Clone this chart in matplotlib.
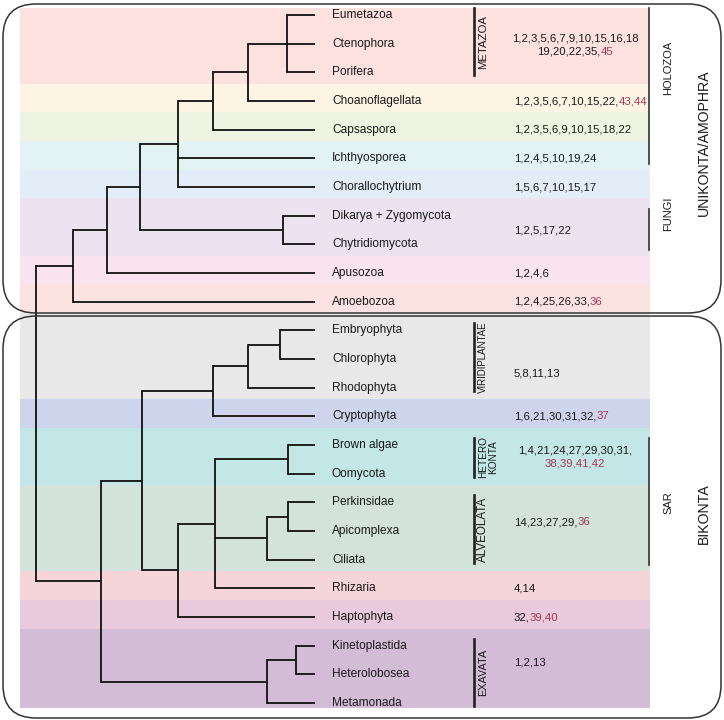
import matplotlib
matplotlib.use("Agg")
import matplotlib.pyplot as plt
from matplotlib.patches import FancyBboxPatch

plt.rcParams['font.family'] = ['Liberation Sans', 'DejaVu Sans']

# leaves, top to bottom (one row each)
leaves = ["Eumetazoa", "Ctenophora", "Porifera", "Choanoflagellata", "Capsaspora",
          "Ichthyosporea", "Chorallochytrium", "Dikarya + Zygomycota", "Chytridiomycota",
          "Apusozoa", "Amoebozoa", "Embryophyta", "Chlorophyta", "Rhodophyta",
          "Cryptophyta", "Brown algae", "Oomycota", "Perkinsidae", "Apicomplexa",
          "Ciliata", "Rhizaria", "Haptophyta", "Kinetoplastida", "Heterolobosea",
          "Metamonada"]

# internal nodes: name -> (depth, children)
nodes = {
    "metazoa": (287, ["Eumetazoa", "Ctenophora", "Porifera"]),
    "choanozoa": (248, ["metazoa", "Choanoflagellata"]),
    "filozoa": (213, ["choanozoa", "Capsaspora"]),
    "holozoa": (178, ["filozoa", "Ichthyosporea", "Chorallochytrium"]),
    "fungi": (283, ["Dikarya + Zygomycota", "Chytridiomycota"]),
    "opisthokonta": (140, ["holozoa", "fungi"]),
    "obazoa": (107, ["opisthokonta", "Apusozoa"]),
    "unikonta": (73, ["obazoa", "Amoebozoa"]),
    "plants": (280, ["Embryophyta", "Chlorophyta"]),
    "viridiplantae": (248, ["plants", "Rhodophyta"]),
    "archaeplastida": (213, ["viridiplantae", "Cryptophyta"]),
    "heterokonta": (288, ["Brown algae", "Oomycota"]),
    "perk_apic": (288, ["Perkinsidae", "Apicomplexa"]),
    "alveolata": (267, ["perk_apic", "Ciliata"]),
    "sar": (215, ["heterokonta", "alveolata", "Rhizaria"]),
    "sarh": (178, ["sar", "Haptophyta"]),
    "diaphoretickes": (142, ["archaeplastida", "sarh"]),
    "discoba": (296, ["Kinetoplastida", "Heterolobosea"]),
    "excavata": (267, ["discoba", "Metamonada"]),
    "bikonta": (101, ["diaphoretickes", "excavata"]),
    "root": (36, ["unikonta", "bikonta"]),
}

# coloured bands: number of leaves in each and colour
band_sizes = [3, 1, 1, 1, 1, 2, 1, 1, 3, 1, 2, 3, 1, 1, 3]
band_colors = ['#fde1df', '#fdf4e4', '#eef4e1', '#e3f2f3', '#e3edf7', '#ebe3f0',
               '#f9e3ee', '#fce3e2', '#e8e8e8', '#cdd4ec', '#c3e7e6', '#d3e3db',
               '#f5d5d7', '#e9cadc', '#d2bcd6']

# character numbers per group ("|" starts the red part)
characters = ["1,2,3,5,6,7,9,10,15,16,18\n19,20,22,35,|45",
              "1,2,3,5,6,7,10,15,22,|43,44",
              "1,2,3,5,6,9,10,15,18,22",
              "1,2,4,5,10,19,24",
              "1,5,6,7,10,15,17",
              "1,2,5,17,22",
              "1,2,4,6",
              "1,2,4,25,26,33,|36",
              "5,8,11,13",
              "1,6,21,30,31,32,|37",
              "1,4,21,24,27,29,30,31,\n|38,39,41,42",
              "14,23,27,29,|36",
              "4,14",
              "32,|39,40",
              "1,2,13"]
char_rows = [1.05, 3, 4, 5, 6, 7.5, 9, 10, 12.5, 14, 15.42, 17.7, 20, 21, 22.57]

left_clades = ["METAZOA", "VIRIDIPLANTAE", "HETERO\nKONTA", "ALVEOLATA", "EXAVATA"]
left_spans = [(0, 2), (11, 13), (15, 16), (17, 19), (22, 24)]
left_sizes = [8.2, 7, 7.2, 8.4, 7.8]
right_clades = ["HOLOZOA", "FUNGI", "SAR"]
right_spans = [(0, 5), (7, 8), (15, 19)]
right_rows = [1.85, 6.95, 17.0]
supergroups = ["UNIKONTA/AMOPHRA", "BIKONTA"]
super_rows = [4.46, 17.4]

RED = '#a8385a'
TIP_X = 315

fig = plt.figure(figsize=(7.24, 7.2), dpi=100)
ax = fig.add_axes([0, 0, 1, 1])
ax.set_xlim(0, 724)
ax.set_ylim(24.59, -0.523)
ax.axis('off')
px_per_row = 720 / (24.59 + 0.523)

# bands
start = 0
for n, c in zip(band_sizes, band_colors):
    top = -0.25 if start == 0 else start - 0.6
    bot = 24.17 if start + n == len(leaves) else start + n - 0.6
    ax.fill_between([20, 650], top, bot, color=c, lw=0, zorder=0)
    start += n

# tree
leaf_row = {name: i for i, name in enumerate(leaves)}
pos = {}


def place(name):
    if name in leaf_row:
        pos[name] = (TIP_X, leaf_row[name])
        return pos[name]
    depth, kids = nodes[name]
    ys = [place(k)[1] for k in kids]
    for k in kids:
        ax.plot([depth, pos[k][0] if k in nodes else TIP_X], [pos[k][1], pos[k][1]],
                color='#111111', lw=1.3, solid_capstyle='butt', zorder=3)
    ax.plot([depth, depth], [min(ys), max(ys)], color='#111111', lw=1.3, zorder=3)
    pos[name] = (depth, (min(ys) + max(ys)) / 2)
    return pos[name]


place("root")

for i, name in enumerate(leaves):
    ax.text(332, i, name, ha='left', va='center', fontsize=8.6, color='#1a1a1a', zorder=4)


def char_line(x, y, s, ha):
    black, _, red = s.partition('|')
    full = ax.text(x, y, black + red, ha=ha, va='center', fontsize=8.2, alpha=0)
    anchor = full
    if black:
        anchor = ax.annotate(black, xy=(0, 0), xycoords=full, ha='left', va='bottom',
                             fontsize=8.2, color='#1a1a1a')
        xy = (1, 0)
    else:
        xy = (0, 0)
    if red:
        ax.annotate(red, xy=xy, xycoords=anchor, ha='left', va='bottom',
                    fontsize=8.2, color=RED)


for s, r in zip(characters, char_rows):
    lines = s.split('\n')
    if len(lines) == 1:
        char_line(514, r, s, 'left')
    else:
        gap = 6.5 / px_per_row
        char_line(575, r - gap, lines[0], 'center')
        char_line(575, r + gap, lines[1], 'center')

for lab, (a, b), fs in zip(left_clades, left_spans, left_sizes):
    y0, y1 = a - 0.25, b + 0.1
    ax.plot([474, 474], [y0, y1], color='#222222', lw=1.9, zorder=4)
    xt = 488 if '\n' in lab else 483
    ax.text(xt, (y0 + y1) / 2, lab, rotation=90, ha='center', va='center',
            fontsize=fs, color='#1a1a1a', multialignment='center', linespacing=1.0)

for lab, (a, b), r in zip(right_clades, right_spans, right_rows):
    y0, y1 = a - 0.25, b + 0.2
    ax.plot([649, 649], [y0, y1], color='#333333', lw=1.2, zorder=4)
    ax.text(668, r, lab, rotation=90, ha='center', va='center', fontsize=8,
            color='#1a1a1a')

for lab, r in zip(supergroups, super_rows):
    ax.text(704, r, lab, rotation=90, ha='center', va='center', fontsize=10.2,
            color='#1a1a1a')

# rounded outlines around the two supergroups
for y0, y1 in [(-0.384, 10.394), (10.5, 24.52)]:
    box = FancyBboxPatch((3, y0), 718, y1 - y0, boxstyle="round,pad=0,rounding_size=33",
                         mutation_aspect=1 / px_per_row, fill=False, ec='#333333',
                         lw=1.1, zorder=5)
    ax.add_patch(box)

fig.savefig("out.png", dpi=100)
